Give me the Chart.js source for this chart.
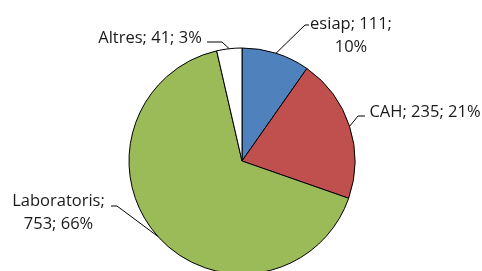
<!DOCTYPE html>
<html>
<head>
<meta charset="utf-8">
<script src="https://cdn.jsdelivr.net/npm/chart.js@4/dist/chart.umd.min.js"></script>
<style>
  html, body { margin: 0; padding: 0; background: #fff; overflow: hidden; }
  #wrap { width: 482px; height: 271px; overflow: hidden; }
</style>
</head>
<body>
<div id="wrap"><canvas id="pie" width="482" height="300"></canvas></div>
<script>
// Data
const categories = ["esiap", "CAH", "Laboratoris", "Altres"]
const values = [111, 235, 753, 41]
const percents = ["10%", "21%", "66%", "3%"]
const sliceColors = ["#4F81BD", "#C0504D", "#9BBB59", "#FFFFFF"]

// Label placement (text lines, centre x, baselines, leader elbow + end)
const labelLayout = [
  { lines: ["esiap; 111;", "10%"], x: 351, y: [29, 52], elbow: [305, 25], end: [309, 25] },
  { lines: ["CAH; 235; 21%"], x: 425, y: [117], elbow: [358, 116], end: [365, 116] },
  { lines: ["Laboratoris;", "753; 66%"], x: 58.5, y: [206, 228.5], elbow: [117, 206], end: [111, 206] },
  { lines: ["Altres; 41; 3%"], x: 150, y: [43], elbow: [222, 42], end: [207, 42] },
]

const pieLabels = {
  id: "pieLabels",
  afterDatasetsDraw(chart) {
    const ctx = chart.ctx
    const arcs = chart.getDatasetMeta(0).data
    ctx.save()
    ctx.strokeStyle = "#000"
    ctx.lineWidth = 1
    ctx.fillStyle = "#1a1a1a"
    ctx.font = "16.5px 'Open Sans'"
    ctx.textAlign = "center"
    ctx.textBaseline = "alphabetic"
    arcs.forEach((arc, i) => {
      const p = arc.getProps(["x", "y", "startAngle", "endAngle", "outerRadius"], true)
      const mid = (p.startAngle + p.endAngle) / 2
      const ex = p.x + Math.cos(mid) * p.outerRadius
      const ey = p.y + Math.sin(mid) * p.outerRadius
      const lay = labelLayout[i]
      ctx.beginPath()
      ctx.moveTo(ex, ey)
      ctx.lineTo(lay.elbow[0], lay.elbow[1])
      ctx.lineTo(lay.end[0], lay.end[1])
      ctx.stroke()
      lay.lines.forEach((t, j) => ctx.fillText(t, lay.x, lay.y[j]))
    })
    ctx.restore()
  },
}

new Chart(document.getElementById("pie"), {
  type: "pie",
  data: {
    labels: categories,
    datasets: [
      {
        data: values,
        backgroundColor: sliceColors,
        borderColor: "#000",
        borderWidth: 1,
      },
    ],
  },
  options: {
    responsive: false,
    animation: false,
    layout: { padding: { left: 128.5, right: 126.5, top: 47.5, bottom: 25.5 } },
    plugins: { legend: { display: false }, tooltip: { enabled: false } },
  },
  plugins: [pieLabels],
})
</script>
</body>
</html>
